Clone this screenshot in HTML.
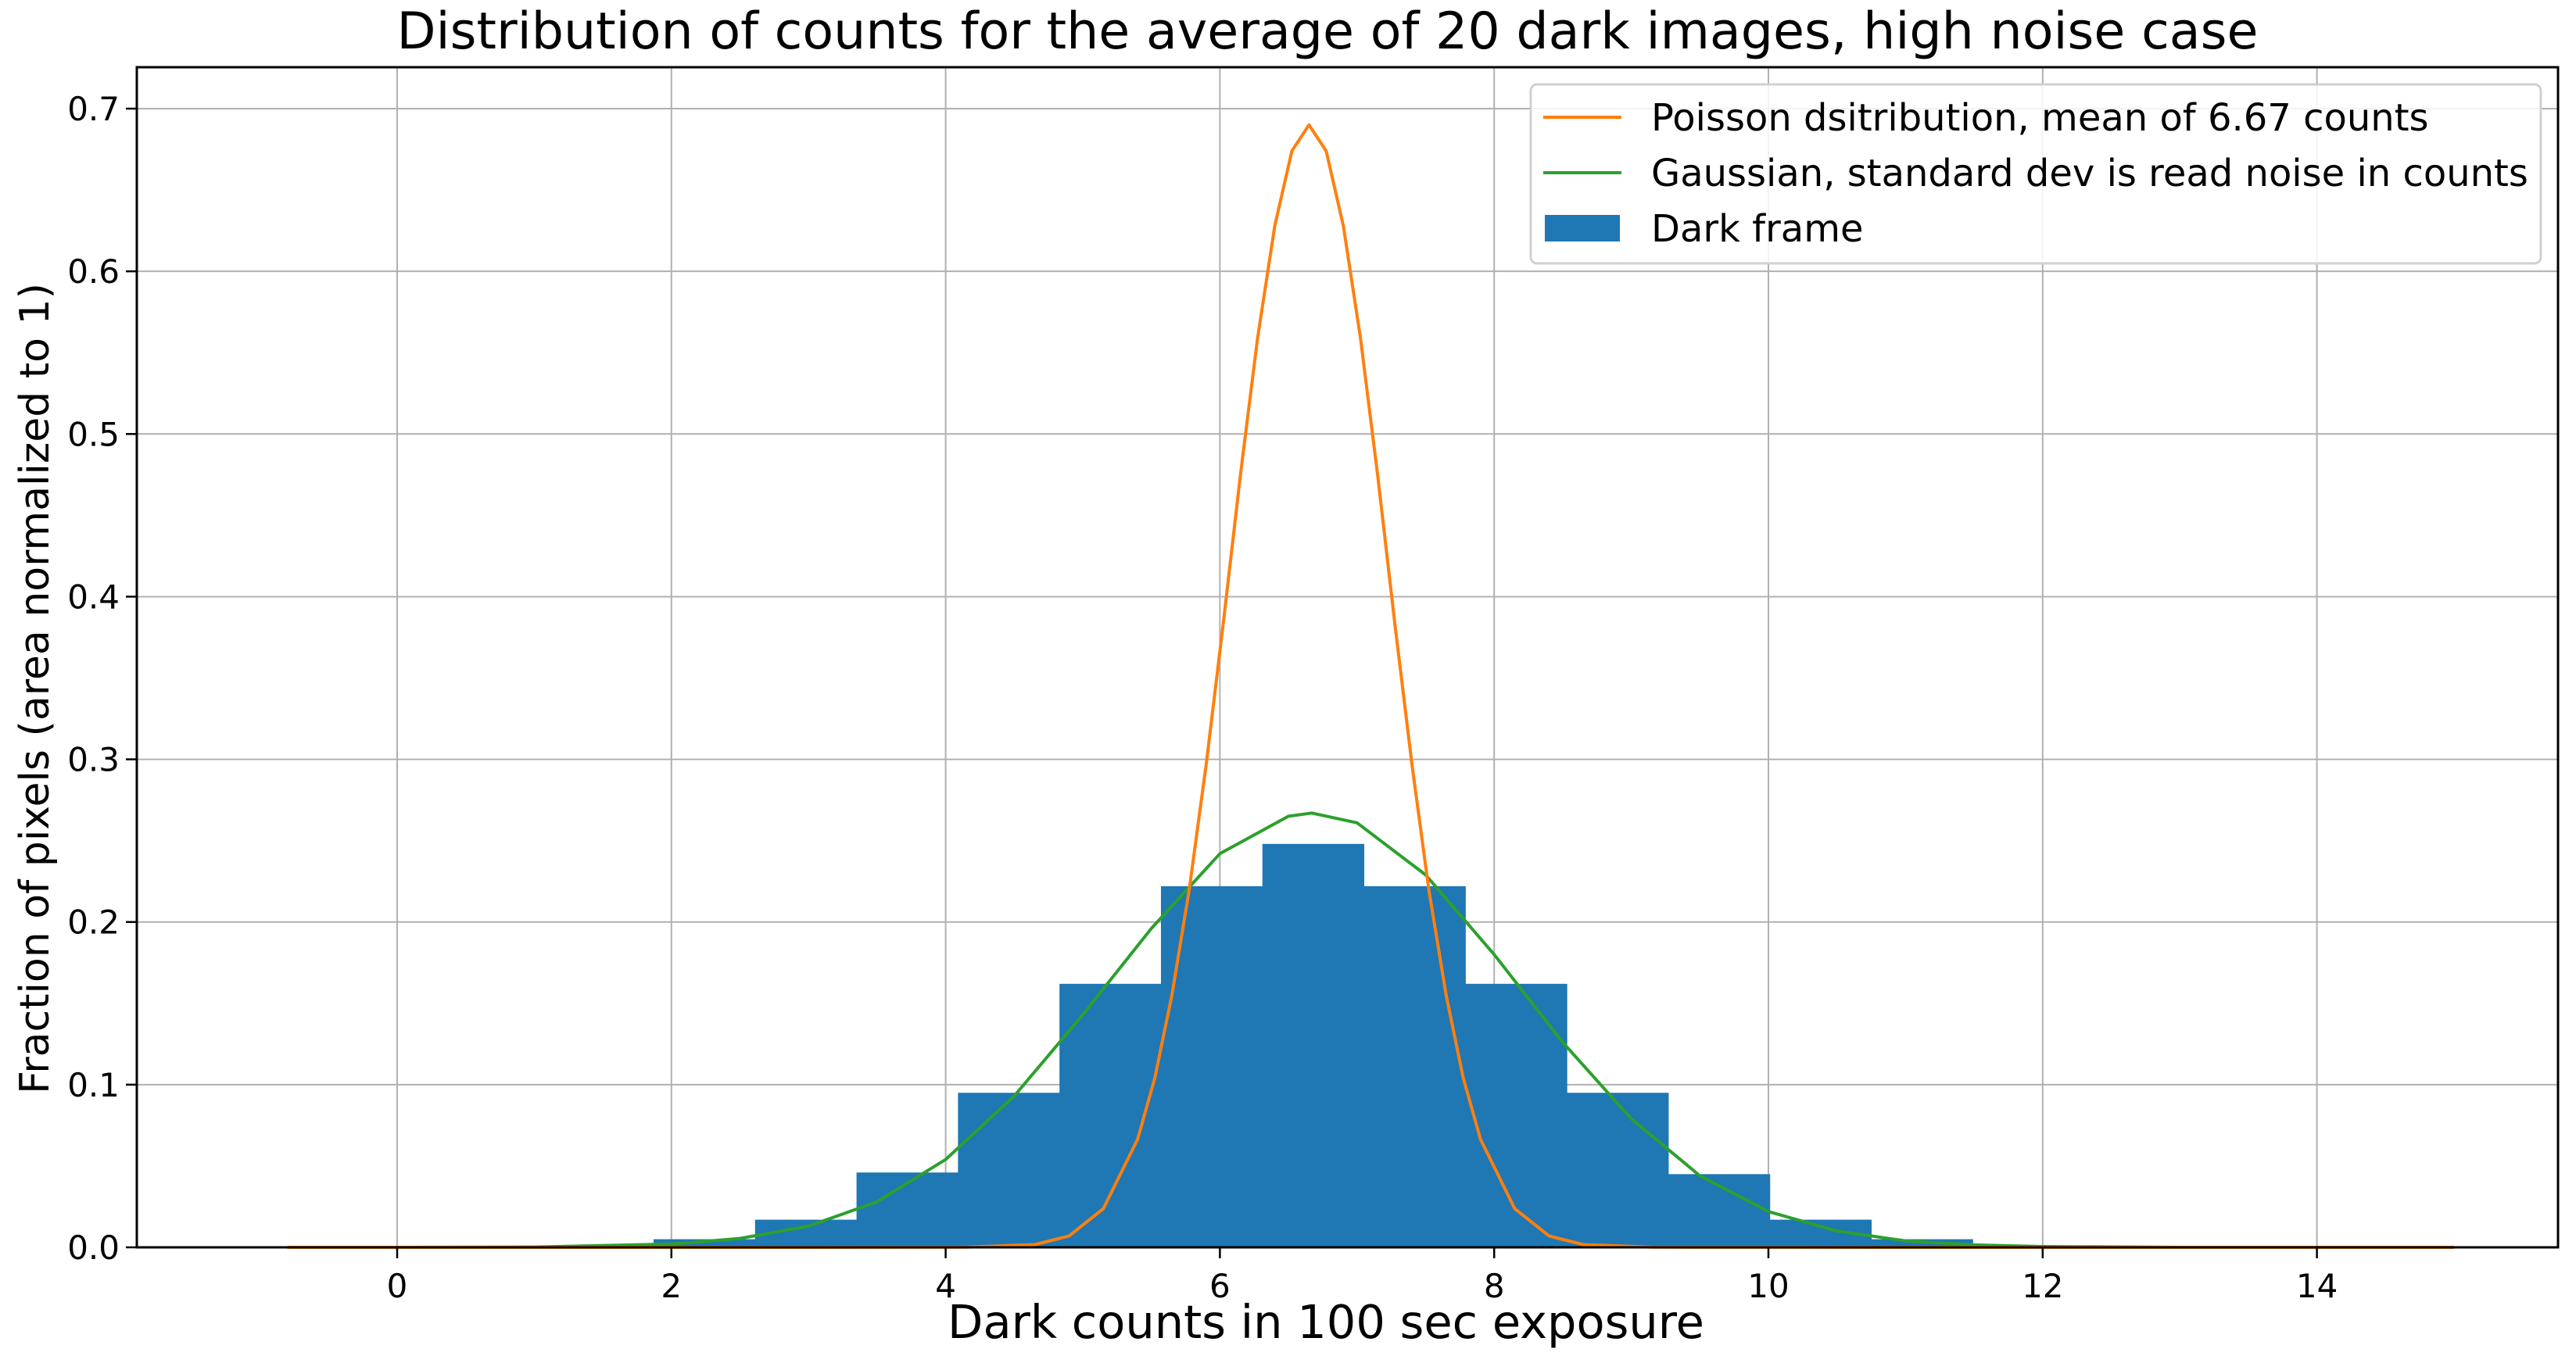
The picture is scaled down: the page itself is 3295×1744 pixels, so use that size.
<!DOCTYPE html>
<html><head><meta charset="utf-8"><style>
html,body{margin:0;padding:0;background:#fff}
svg{display:block;font-family:"DejaVu Sans","Liberation Sans",sans-serif}
</style></head><body>
<svg id="chart" width="3295" height="1744" viewBox="0 0 3295 1744" xmlns="http://www.w3.org/2000/svg">
<rect width="3295" height="1744" fill="#fff"/>
<g id="grid"></g><g id="bars"></g><g id="lines"></g><g id="axes"></g>
</svg>
<script>
const binEdges=[1.13,1.87,2.61,3.35,4.09,4.83,5.57,6.31,7.05,7.79,8.53,9.27,10.01,10.75,11.49,12.23];
const binHeights=[0.001,0.005,0.017,0.046,0.095,0.162,0.222,0.248,0.222,0.162,0.095,0.045,0.017,0.005,0.001];
const poissonX=[-0.8,1,3,4.15,4.65,4.9,5.15,5.4,5.525,5.65,5.775,5.9,6.025,6.15,6.275,6.4,6.525,6.65,6.775,6.9,7.025,7.15,7.275,7.4,7.525,7.65,7.775,7.9,8.15,8.4,8.65,9.15,11,13,15];
const poissonY=[0,0,0,0.0001,0.0017,0.007,0.0238,0.0665,0.104,0.155,0.219,0.297,0.384,0.475,0.559,0.628,0.674,0.69,0.674,0.628,0.559,0.475,0.384,0.297,0.219,0.155,0.104,0.0665,0.0238,0.007,0.0017,0.0001,0,0,0];
const gaussX=[-0.8,0,1,2,2.5,3,3.5,4,4.5,5,5.5,6,6.5,6.67,7,7.5,8,8.5,9,9.5,10,10.5,11,11.5,12,13,14];
const gaussY=[0,0,0.0002,0.002,0.0055,0.013,0.028,0.054,0.093,0.143,0.196,0.242,0.265,0.267,0.261,0.229,0.180,0.126,0.079,0.044,0.022,0.010,0.004,0.0015,0.0005,0,0];
const xTicks=[0,2,4,6,8,10,12,14];
const yTicks=[0,0.1,0.2,0.3,0.4,0.5,0.6,0.7];

const L=175,R=3272,T=86,B=1596;
const sx=v=>508+v*175.4;
const sy=v=>1596-v*2081.4;
const NS="http://www.w3.org/2000/svg";
function mk(parent,tag,attrs){const e=document.createElementNS(NS,tag);for(const k in attrs)e.setAttribute(k,attrs[k]);document.getElementById(parent).appendChild(e);return e;}

xTicks.forEach(t=>{
  const g=mk('grid','line',{x1:sx(t),x2:sx(t),y1:T,y2:B,stroke:'#b0b0b0','stroke-width':2});
  
  
  const tk=mk('axes','line',{x1:sx(t),x2:sx(t),y1:B,y2:B+14,stroke:'#000','stroke-width':2.5});
  
  
  const tx=mk('axes','text',{x:sx(t),y:B+64,'font-size':42,'text-anchor':'middle',fill:'#000'});
  tx.textContent=t;
  
  
});
yTicks.forEach(t=>{
  const g=mk('grid','line',{x1:L,x2:R,y1:sy(t),y2:sy(t),stroke:'#b0b0b0','stroke-width':2});
  
  
  const tk=mk('axes','line',{x1:L-14,x2:L,y1:sy(t),y2:sy(t),stroke:'#000','stroke-width':2.5});
  
  
  const tx=mk('axes','text',{x:L-22,y:sy(t)+15,'font-size':42,'text-anchor':'end',fill:'#000'});
  tx.textContent=t.toFixed(1);
  
  
});
binHeights.forEach((h,i)=>{
  const r=mk('bars','rect',{x:sx(binEdges[i]),y:sy(h),width:sx(binEdges[i+1])-sx(binEdges[i])+0.5,height:sy(0)-sy(h),fill:'#1f77b4'});
  
  
});
function pts(xs,ys){return xs.map((x,i)=>sx(x).toFixed(1)+','+sy(ys[i]).toFixed(1)).join(' ');}
const g1=mk('lines','polyline',{points:pts(gaussX,gaussY),fill:'none',stroke:'#2ca02c','stroke-width':4,'stroke-linejoin':'round'});


const p1=mk('lines','polyline',{points:pts(poissonX,poissonY),fill:'none',stroke:'#ff7f0e','stroke-width':4,'stroke-linejoin':'round'});


</script>
<svg style="position:absolute;left:0;top:0" width="3295" height="1744" xmlns="http://www.w3.org/2000/svg">
<rect x="175" y="86" width="3097" height="1510" fill="none" stroke="#000" stroke-width="3"/>
<text x="1698" y="62" font-size="65" text-anchor="middle" font-family="DejaVu Sans, Liberation Sans, sans-serif">Distribution of counts for the average of 20 dark images, high noise case</text>
<text x="1696" y="1712" font-size="59" text-anchor="middle" font-family="DejaVu Sans, Liberation Sans, sans-serif">Dark counts in 100 sec exposure</text>
<text transform="translate(62,881) rotate(-90)" font-size="52" text-anchor="middle" font-family="DejaVu Sans, Liberation Sans, sans-serif">Fraction of pixels (area normalized to 1)</text>
<g font-family="DejaVu Sans, Liberation Sans, sans-serif" font-size="48">
<rect x="1958" y="108" width="1292" height="229" rx="8" fill="#fff" fill-opacity="0.85" stroke="#d0d0d0" stroke-width="3"/>
<line x1="1974" x2="2074" y1="150" y2="150" stroke="#ff7f0e" stroke-width="4"/>
<text x="2112" y="167">Poisson dsitribution, mean of  6.67 counts</text>
<line x1="1974" x2="2074" y1="221" y2="221" stroke="#2ca02c" stroke-width="4"/>
<text x="2112" y="238">Gaussian, standard dev is read noise in counts</text>
<rect x="1976" y="275" width="96" height="34" fill="#1f77b4"/>
<text x="2112" y="309">Dark frame</text>
</g>
</svg>
</body></html>
